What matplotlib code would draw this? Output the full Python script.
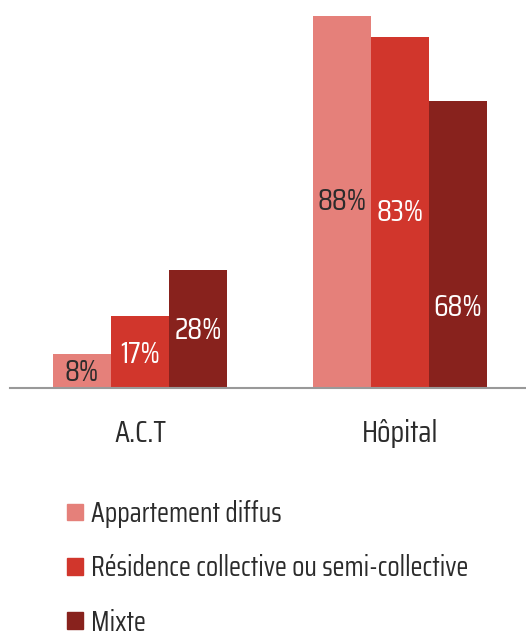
import numpy as np
import matplotlib
matplotlib.use("Agg")
import matplotlib.pyplot as plt
from matplotlib.patches import Patch

plt.rcParams['font.family'] = ['Saira Condensed', 'DejaVu Sans']

# donnees
groups = ["A.C.T", "Hôpital"]
series = ["Appartement diffus", "Résidence collective ou semi-collective", "Mixte"]
values = [
    [8, 88],
    [17, 83],
    [28, 68],
]
colors = ["#E5807A", "#D1362C", "#88221D"]
text_colors = ["#2b2b2b", "white", "white"]
# position verticale des etiquettes (fraction de la hauteur de la barre)
label_frac = [
    [0.45, 0.5],
    [0.47, 0.5],
    [0.49, 0.28],
]

fig = plt.figure(figsize=(5.26, 6.35), dpi=100)
ax = fig.add_axes([10 / 526, 247 / 635, 516 / 526, (388 - 16) / 635])

x = np.arange(len(groups))
width = 0.223
for i, (name, vals) in enumerate(zip(series, values)):
    pos = x + (i - 1) * width
    ax.bar(pos, vals, width, color=colors[i], label=name, linewidth=0)
    for p, v, f in zip(pos, vals, label_frac[i]):
        ax.text(p, v * f, f"{v}%", ha="center", va="center",
                color=text_colors[i], fontsize=22)

ax.set_xlim(-0.5, 1.4846)
ax.set_ylim(0, 88)
for s in ["top", "right", "left"]:
    ax.spines[s].set_visible(False)
ax.spines["bottom"].set_color("#999999")
ax.spines["bottom"].set_linewidth(1.5)
ax.set_yticks([])
ax.set_xticks(x)
ax.set_xticklabels(groups, fontsize=22, color="#2b2b2b")
ax.tick_params(axis="x", length=0, pad=22)

handles = [Patch(color=c, label=s) for c, s in zip(colors, series)]
fig.legend(handles=handles, loc="upper left", bbox_to_anchor=(0.128, 0.213),
           frameon=False, fontsize=20, handlelength=0.55, handleheight=0.55,
           handletextpad=0.3, labelspacing=0.95, labelcolor="#2b2b2b",
           borderaxespad=0, borderpad=0)

plt.savefig("out.png", dpi=100)
